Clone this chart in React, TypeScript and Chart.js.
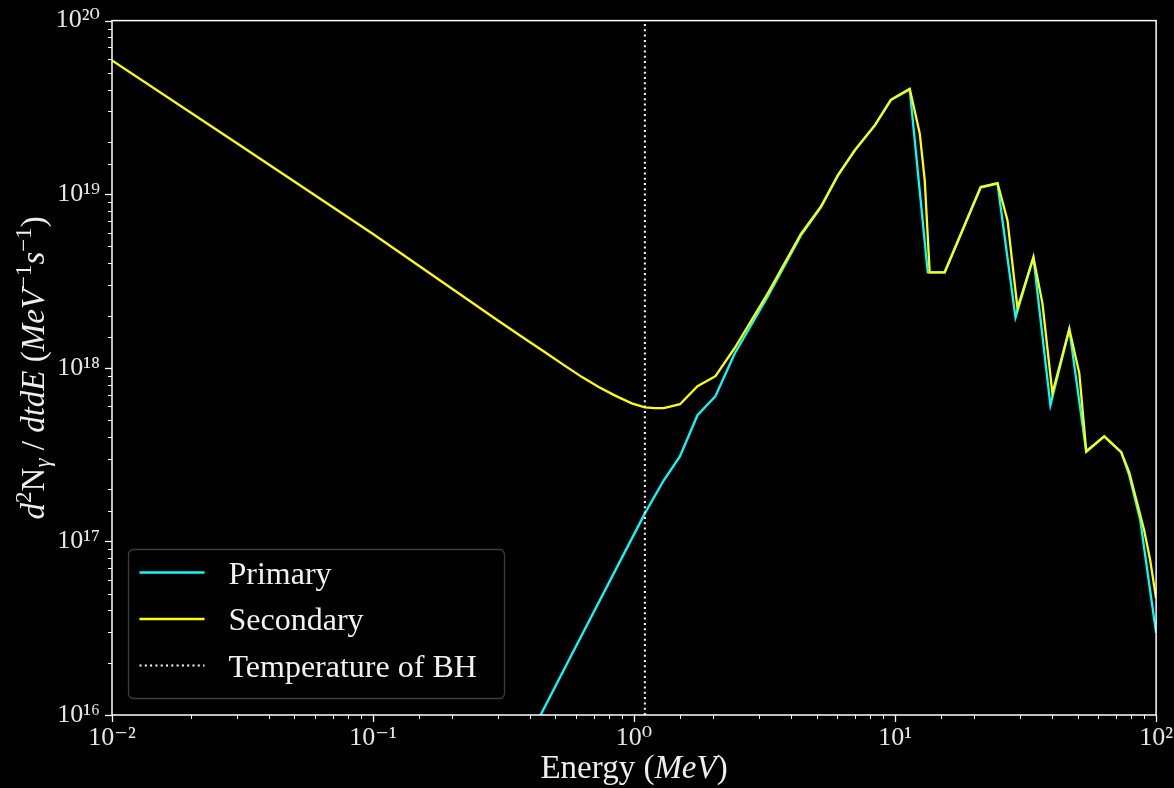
import React, { useEffect, useRef } from 'react';
import { Chart, registerables } from 'chart.js';

Chart.register(...registerables);

// ---- data ----
const primaryEnergy = [0.3, 0.6, 1.1, 1.3, 1.5, 1.75, 2.05, 2.43, 3.27, 4.36, 5.2, 6.04, 7.02, 8.37, 9.63, 10.0, 11.38, 13.34, 15.49, 21.27, 24.69, 28.93, 33.88, 39.36, 46.5, 54.0, 63.3, 73.5, 78.9, 86.9, 100];
const primaryFlux = [3.3e15, 2.5e16, 1.45e17, 2.25e17, 3.1e17, 5.33e17, 6.86e17, 1.21e18, 2.61e18, 5.79e18, 8.39e18, 1.28e19, 1.79e19, 2.49e19, 3.47e19, 3.6e19, 4.01e19, 3.55e18, 3.55e18, 1.09e19, 1.15e19, 1.95e18, 4.33e18, 6.08e17, 1.67e18, 3.27e17, 4.03e17, 3.27e17, 2.4e17, 1.33e17, 2.97e16];

const secondaryEnergy = [0.01, 0.03, 0.1, 0.3, 0.384, 0.45, 0.546, 0.63, 0.732, 0.85, 0.98, 1.1, 1.2, 1.3, 1.5, 1.75, 2.05, 2.43, 3.27, 4.36, 5.2, 6.04, 7.02, 8.37, 9.63, 10.0, 11.38, 12.43, 12.99, 13.57, 15.49, 21.27, 24.69, 26.96, 29.44, 33.88, 36.69, 40.06, 46.5, 50.8, 54.0, 63.3, 73.5, 78.9, 90.0, 94.9, 100];
const secondaryFlux = [5.9e19, 1.97e19, 5.9e18, 1.88e18, 1.46e18, 1.245e18, 1.023e18, 8.87e17, 7.76e17, 6.89e17, 6.24e17, 5.92e17, 5.85e17, 5.86e17, 6.17e17, 7.83e17, 8.94e17, 1.3e18, 2.72e18, 5.9e18, 8.5e18, 1.29e19, 1.8e19, 2.5e19, 3.5e19, 3.62e19, 4.05e19, 2.24e19, 1.2e19, 3.55e18, 3.55e18, 1.1e19, 1.16e19, 7.06e18, 2.2e18, 4.33e18, 2.35e18, 7.13e17, 1.67e18, 9.29e17, 3.31e17, 4.03e17, 3.27e17, 2.5e17, 1.16e17, 7.8e16, 4.7e16];

const bhTemperature = 1.1; // MeV

const seriesLabels = ['Primary', 'Secondary', 'Temperature of BH'];

const xMin = 1e-2;
const xMax = 1e2;
const yMin = 1e16;
const yMax = 1e20;

const xTickExponents = [-2, -1, 0, 1, 2];
const xTickLabels = ['10⁻²', '10⁻¹', '10⁰', '10¹', '10²'];
const yTickExponents = [16, 17, 18, 19, 20];
const yTickLabels = ['10¹⁶', '10¹⁷', '10¹⁸', '10¹⁹', '10²⁰'];

const FONT = "'Liberation Serif', 'DejaVu Serif', serif";

type Seg = { t: string; it?: boolean; sup?: boolean; sub?: boolean };

const xTitleSegs: Seg[] = [{ t: 'Energy (' }, { t: 'MeV', it: true }, { t: ')' }];
const yTitleSegs: Seg[] = [
  { t: 'd', it: true }, { t: '2', sup: true }, { t: 'N' }, { t: 'γ', it: true, sub: true },
  { t: ' / ' }, { t: 'dtdE', it: true }, { t: ' (' }, { t: 'MeV', it: true }, { t: '−1', sup: true },
  { t: 's', it: true }, { t: '−1', sup: true }, { t: ')' },
];

function segFont(s: Seg, size: number) {
  const sz = s.sup || s.sub ? Math.round(size * 0.7) : size;
  return `${s.it ? 'italic ' : ''}${sz}px ${FONT}`;
}

function drawRich(ctx: CanvasRenderingContext2D, segs: Seg[], cx: number, baseY: number, size: number) {
  let total = 0;
  const widths = segs.map((s) => {
    ctx.font = segFont(s, size);
    const w = ctx.measureText(s.t).width;
    total += w;
    return w;
  });
  let x = cx - total / 2;
  ctx.textAlign = 'left';
  ctx.textBaseline = 'alphabetic';
  segs.forEach((s, i) => {
    ctx.font = segFont(s, size);
    let y = baseY;
    if (s.sup) y -= size * 0.4;
    if (s.sub) y += size * 0.18;
    ctx.fillText(s.t, x, y);
    x += widths[i];
  });
}

function isPow10(v: number) {
  const e = Math.log10(v);
  return Math.abs(e - Math.round(e)) < 1e-6;
}

const decorPlugin = {
  id: 'decor',
  afterDatasetsDraw(chart: any) {
    const { ctx, chartArea: a } = chart;
    ctx.save();
    ctx.strokeStyle = '#ffffff';
    ctx.lineWidth = 1.5;
    ctx.strokeRect(a.left, a.top, a.right - a.left, a.bottom - a.top);
    ctx.restore();
  },
  afterDraw(chart: any) {
    const { ctx, chartArea: a } = chart;
    const xs = chart.scales.x;
    const ys = chart.scales.y;
    ctx.save();
    // tick marks
    ctx.strokeStyle = '#ffffff';
    xs.ticks.forEach((t: any) => {
      const major = isPow10(t.value);
      const px = Math.round(xs.getPixelForValue(t.value)) + 0.5;
      ctx.lineWidth = major ? 1.3 : 1;
      ctx.beginPath();
      ctx.moveTo(px, a.bottom);
      ctx.lineTo(px, a.bottom + (major ? 7 : 4));
      ctx.stroke();
    });
    ys.ticks.forEach((t: any) => {
      const major = isPow10(t.value);
      const py = Math.round(ys.getPixelForValue(t.value)) + 0.5;
      ctx.lineWidth = major ? 1.3 : 1;
      ctx.beginPath();
      ctx.moveTo(a.left, py);
      ctx.lineTo(a.left - (major ? 7 : 4), py);
      ctx.stroke();
    });

    // axis titles
    ctx.fillStyle = '#eeeeee';
    drawRich(ctx, xTitleSegs, (a.left + a.right) / 2, 778, 33);
    ctx.save();
    ctx.translate(44, (a.top + a.bottom) / 2);
    ctx.rotate(-Math.PI / 2);
    drawRich(ctx, yTitleSegs, 0, 0, 33);
    ctx.restore();

    // legend
    const bw = 376;
    const bh = 149;
    const bx = a.left + 16.5;
    const by = a.bottom - 16.5 - bh;
    ctx.beginPath();
    ctx.roundRect(bx, by, bw, bh, 5);
    ctx.fillStyle = 'rgba(0,0,0,0.85)';
    ctx.fill();
    ctx.strokeStyle = '#3c3c3c';
    ctx.lineWidth = 1.3;
    ctx.stroke();
    chart.data.datasets.forEach((ds: any, i: number) => {
      const ry = by + 23 + i * 46.5;
      ctx.save();
      ctx.strokeStyle = ds.borderColor;
      ctx.lineWidth = ds.borderWidth;
      ctx.setLineDash(ds.borderDash || []);
      ctx.beginPath();
      ctx.moveTo(bx + 11, ry);
      ctx.lineTo(bx + 76, ry);
      ctx.stroke();
      ctx.restore();
      ctx.fillStyle = '#f2f2f2';
      ctx.font = `32px ${FONT}`;
      ctx.textAlign = 'left';
      ctx.textBaseline = 'alphabetic';
      ctx.fillText(ds.label, bx + 100, ry + 11);
    });
    ctx.restore();
  },
};

function tickLabel(exps: number[], labels: string[]) {
  return (value: any) => {
    const v = Number(value);
    if (!isPow10(v)) return '';
    const i = exps.indexOf(Math.round(Math.log10(v)));
    return i >= 0 ? labels[i] : '';
  };
}

export default function App() {
  const ref = useRef<HTMLCanvasElement | null>(null);

  useEffect(() => {
    document.body.style.margin = '0';
    document.body.style.background = '#000';
    const canvas = ref.current;
    if (!canvas) return;
    const chart = new Chart(canvas, {
      type: 'line',
      data: {
        datasets: [
          {
            label: seriesLabels[0],
            data: primaryEnergy.map((e, i) => ({ x: e, y: primaryFlux[i] })),
            borderColor: '#00ffff',
            borderWidth: 2.3,
            pointRadius: 0,
            tension: 0,
            order: 3,
          },
          {
            label: seriesLabels[1],
            data: secondaryEnergy.map((e, i) => ({ x: e, y: secondaryFlux[i] })),
            borderColor: '#ffff00',
            borderWidth: 2.3,
            pointRadius: 0,
            tension: 0,
            order: 2,
          },
          {
            label: seriesLabels[2],
            data: [
              { x: bhTemperature, y: yMin },
              { x: bhTemperature, y: yMax },
            ],
            borderColor: '#ffffff',
            borderWidth: 2,
            borderDash: [2, 3.3],
            pointRadius: 0,
            order: 1,
          },
        ],
      },
      options: {
        responsive: false,
        animation: false,
        events: [],
        layout: { padding: { top: 20, right: 15, left: 0, bottom: 0 } },
        plugins: { legend: { display: false }, tooltip: { enabled: false } },
        scales: {
          x: {
            type: 'logarithmic',
            min: xMin,
            max: xMax,
            border: { display: false },
            grid: { display: true, drawOnChartArea: false, drawTicks: true, tickLength: 7, tickColor: 'rgba(0,0,0,0)' },
            ticks: {
              autoSkip: false,
              maxRotation: 0,
              padding: 1,
              color: '#e6e6e6',
              font: { family: FONT, size: 26 },
              callback: tickLabel(xTickExponents, xTickLabels),
            },
            afterFit: (s: any) => { s.height = 73; },
          },
          y: {
            type: 'logarithmic',
            min: yMin,
            max: yMax,
            border: { display: false },
            grid: { display: true, drawOnChartArea: false, drawTicks: true, tickLength: 7, tickColor: 'rgba(0,0,0,0)' },
            ticks: {
              autoSkip: false,
              padding: 5,
              color: '#e6e6e6',
              font: { family: FONT, size: 26 },
              callback: tickLabel(yTickExponents, yTickLabels),
            },
            afterFit: (s: any) => { s.width = 112; },
          },
        },
      } as any,
      plugins: [decorPlugin],
    });
    return () => chart.destroy();
  }, []);

  return (
    <div style={{ width: 1174, height: 788, background: '#000' }}>
      <canvas ref={ref} width={1174} height={788} style={{ display: 'block', width: 1174, height: 788 }} />
    </div>
  );
}
